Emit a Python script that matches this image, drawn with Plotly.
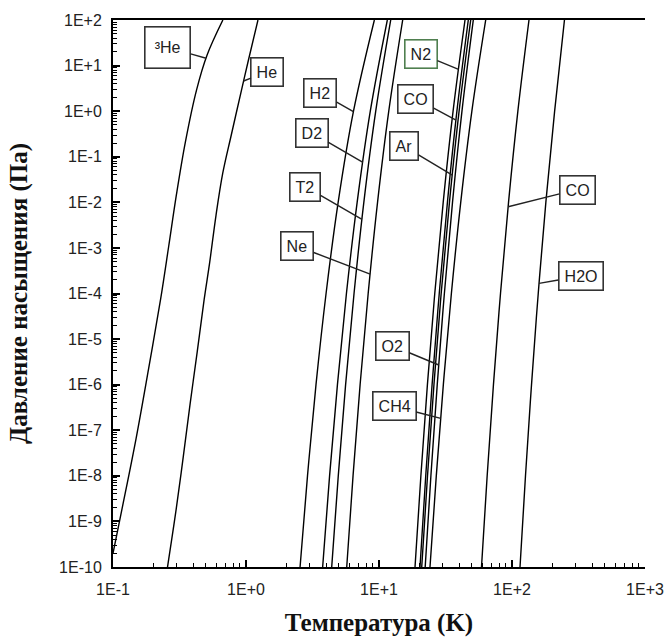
import numpy as np
import plotly.graph_objects as go

# ---- data: saturated vapour pressure curves (T in K, P in Pa) ----
P_levels = [1e-10, 1e-8, 1e-6, 1e-4, 1e-2, 1e0, 1e2]

T_H2 = [2.55, 2.90, 3.36, 4.00, 4.93, 6.43, 9.23]
T_D2 = [3.77, 4.25, 4.87, 5.69, 6.85, 8.60, 11.55]
T_T2 = [4.41, 4.94, 5.61, 6.49, 7.69, 9.45, 12.25]
T_Ne = [5.72, 6.38, 7.21, 8.29, 9.75, 11.84, 15.07]
T_N2 = [18.66, 20.65, 23.12, 26.26, 30.39, 36.06, 44.33]
T_CO = [20.34, 22.46, 25.07, 28.38, 32.69, 38.53, 46.93]
T_Ar = [20.95, 23.16, 25.89, 29.34, 33.86, 40.02, 48.93]
T_O2 = [22.25, 24.56, 27.41, 31.01, 35.70, 42.06, 51.17]
T_CH4 = [24.18, 26.96, 30.46, 35.01, 41.16, 49.92, 63.42]
T_CO2 = [58.98, 65.06, 72.53, 81.95, 94.17, 110.7, 134.2]
T_H2O = [114.9, 126.3, 140.2, 157.5, 179.7, 209.2, 248.0]

# helium isotopes have their own sampling
T_He3 = [0.100, 0.117, 0.149, 0.185, 0.228, 0.262, 0.300, 0.350, 0.425, 0.510, 0.670]
P_He3 = [2e-10, 1.9e-9, 6.5e-8, 2.2e-6, 7.5e-5, 1.06e-3, 1.49e-2, 0.21, 2.94, 17.1, 100]
T_He4 = [0.257, 0.299, 0.338, 0.380, 0.430, 0.485, 0.531, 0.595, 0.668, 0.775, 0.925, 1.035, 1.230]
P_He4 = [1e-10, 1.9e-9, 2.7e-8, 3.8e-7, 5.3e-6, 7.5e-5, 4.4e-4, 5.2e-3, 4.3e-2, 0.30, 2.9, 12, 100]

curves = [
    ("³He", T_He3, P_He3),
    ("He", T_He4, P_He4),
    ("H2", T_H2, P_levels),
    ("D2", T_D2, P_levels),
    ("T2", T_T2, P_levels),
    ("Ne", T_Ne, P_levels),
    ("N2", T_N2, P_levels),
    ("CO", T_CO, P_levels),
    ("Ar", T_Ar, P_levels),
    ("O2", T_O2, P_levels),
    ("CH4", T_CH4, P_levels),
    ("CO2", T_CO2, P_levels),
    ("H2O", T_H2O, P_levels),
]

# label boxes: (curve, text, log10 P where the leader meets the curve,
#               box centre as log10 T, log10 P, border colour, box size)
labels = [
    ("³He", "³He", 1.16, -0.587, 1.397, "#333333", (34, 30)),
    ("He", "He", 0.662, 0.159, 0.866, "#333333", None),
    ("H2", "H2", -0.012, 0.560, 0.398, "#333333", None),
    ("D2", "D2", -1.122, 0.495, -0.475, "#333333", None),
    ("T2", "T2", -2.373, 0.446, -1.653, "#333333", None),
    ("Ne", "Ne", -3.573, 0.387, -2.965, "#333333", None),
    ("N2", "N2", 0.918, 1.317, 1.256, "#4f7f4f", None),
    ("CO", "CO", -0.194, 1.278, 0.269, "#333333", None),
    ("Ar", "Ar", -1.401, 1.190, -0.773, "#333333", None),
    ("O2", "O2", -5.569, 1.102, -5.148, "#333333", None),
    ("CH4", "CH4", -6.739, 1.116, -6.477, "#333333", None),
    ("CO2", "CO", -2.096, 2.490, -1.719, "#333333", None),
    ("H2O", "H2O", -3.779, 2.515, -3.619, "#333333", None),
]

x_tickvals = [0.1, 1, 10, 100, 1000]
x_ticktext = ["1E-1", "1E+0", "1E+1", "1E+2", "1E+3"]
y_tickvals = [10.0 ** n for n in range(-10, 3)]
y_ticktext = ["1E-10", "1E-9", "1E-8", "1E-7", "1E-6", "1E-5", "1E-4",
              "1E-3", "1E-2", "1E-1", "1E+0", "1E+1", "1E+2"]

x_minor = [k * 10.0 ** n for n in range(-1, 3) for k in range(2, 10)]
y_minor = [k * 10.0 ** n for n in range(-10, 2) for k in range(2, 10)]

fig = go.Figure()
lookup = {}
for name, T, P in curves:
    lookup[name] = (T, P)
    fig.add_trace(go.Scatter(
        x=T, y=P, mode="lines", name=name, showlegend=False,
        line=dict(color="black", width=1.4, shape="spline", smoothing=1.0),
        hoverinfo="skip",
    ))

for name, text, tip_logp, bx, by, bcol, size in labels:
    T, P = lookup[name]
    lt = np.log10(T)
    lp = np.log10(P)
    tip_logt = float(np.interp(tip_logp, lp, lt))
    extra = {}
    if size is not None:
        extra = dict(width=size[0], height=size[1])
    fig.add_annotation(
        x=tip_logt, y=tip_logp, xref="x", yref="y",
        ax=bx, ay=by, axref="x", ayref="y",
        text=text, showarrow=True, arrowhead=0, arrowwidth=1.4,
        arrowcolor="#222222",
        font=dict(family="Liberation Sans, Arial", size=16, color="#222222"),
        bordercolor=bcol, borderwidth=1.6, borderpad=5,
        bgcolor="white", **extra,
    )

tick_font = dict(family="Liberation Sans, Arial", size=16, color="#222222")
title_font = dict(family="Liberation Serif, Times New Roman", size=25,
                  color="#111111", weight="bold")

fig.update_layout(
    width=665, height=644,
    margin=dict(l=113, r=20, t=20, b=77),
    paper_bgcolor="white", plot_bgcolor="white",
    xaxis=dict(
        type="log", range=[-1, 3], automargin=False,
        tickmode="array", tickvals=x_tickvals, ticktext=x_ticktext,
        ticks="inside", ticklen=7, tickwidth=1.5, tickcolor="black",
        minor=dict(tickmode="array", tickvals=x_minor, ticks="inside",
                   ticklen=4, tickwidth=1, tickcolor="black", showgrid=False),
        showline=True, linecolor="black", linewidth=2, mirror=True,
        showgrid=False, zeroline=False,
        tickfont=tick_font, ticklabelstandoff=7,
        title=dict(text="Температура (K)", font=title_font, standoff=16),
    ),
    yaxis=dict(
        type="log", range=[-10, 2], automargin=False,
        tickmode="array", tickvals=y_tickvals, ticktext=y_ticktext,
        ticks="inside", ticklen=7, tickwidth=1.5, tickcolor="black",
        minor=dict(tickmode="array", tickvals=y_minor, ticks="inside",
                   ticklen=4, tickwidth=1, tickcolor="black", showgrid=False),
        showline=True, linecolor="black", linewidth=2,
        showgrid=False, zeroline=False,
        tickfont=tick_font, ticklabelstandoff=6,
        title=dict(text="Давление насыщения (Па)", font=title_font, standoff=24),
    ),
)

fig.write_html("out.html")
